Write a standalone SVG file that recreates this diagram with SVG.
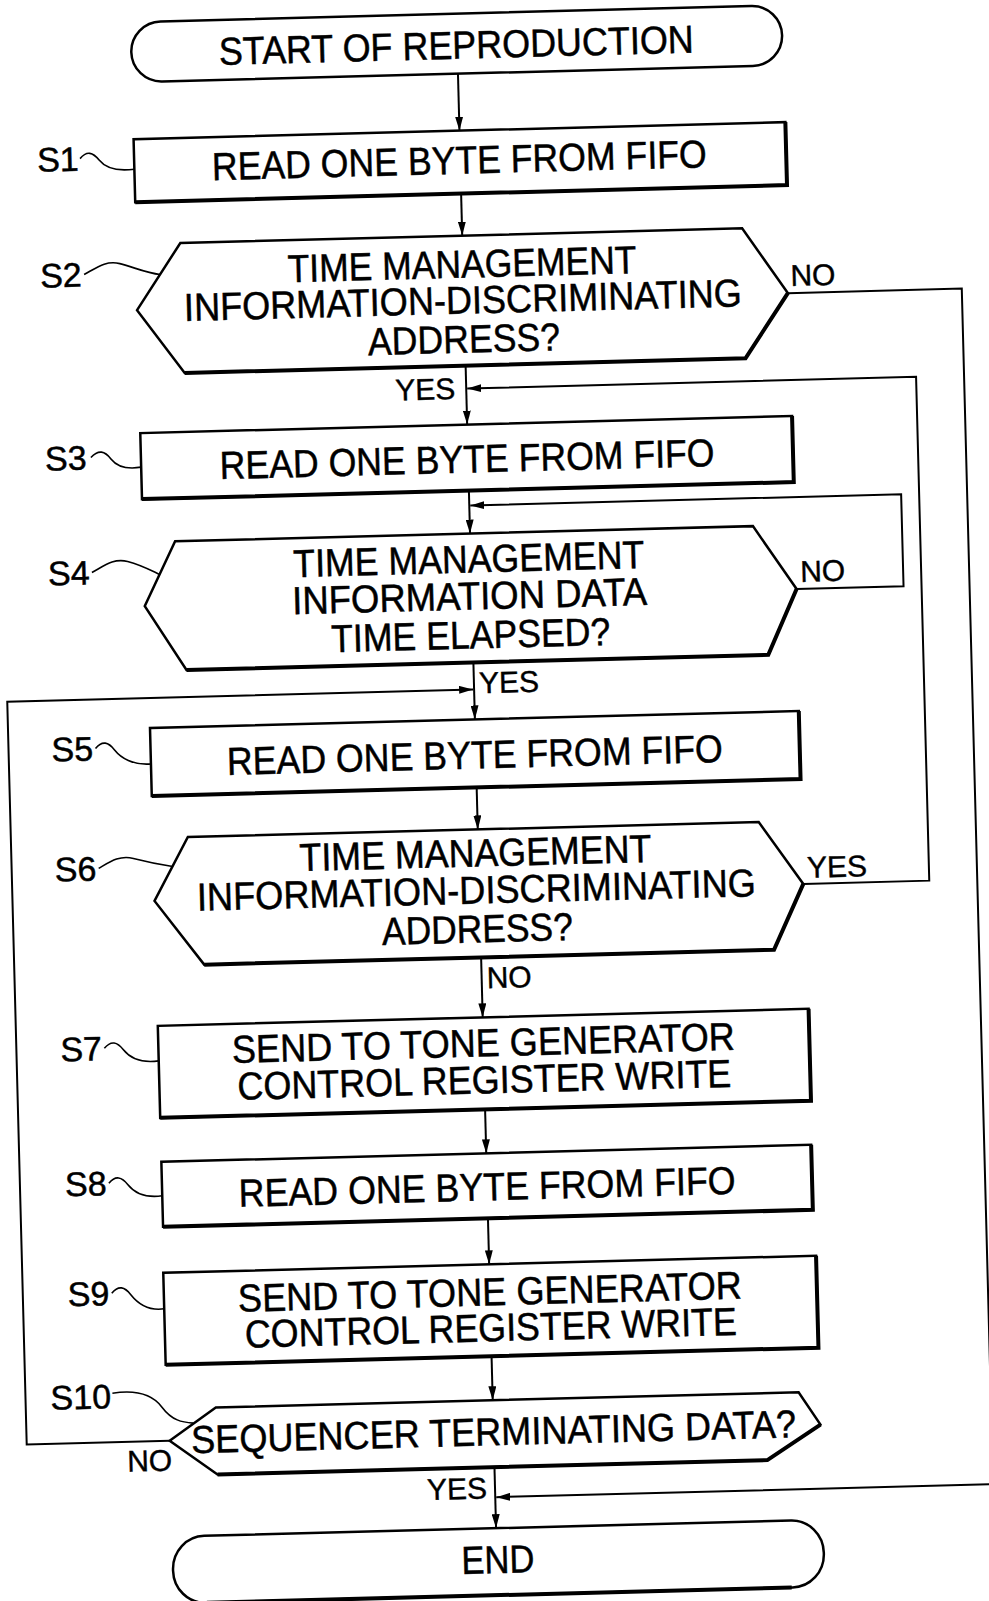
<svg xmlns="http://www.w3.org/2000/svg" width="989" height="1601" viewBox="0 0 989 1601">
<style>
.node{fill:#fff;stroke:#000;stroke-width:2.5;stroke-linejoin:miter}
.sh{fill:none;stroke:#000;stroke-width:4}
.t{font-family:"Liberation Sans",Arial,Helvetica,sans-serif;font-size:39px;text-anchor:middle;fill:#000;stroke:#000;stroke-width:0.5}
.lbl{font-family:"Liberation Sans",Arial,Helvetica,sans-serif;font-size:30px;fill:#000;stroke:#000;stroke-width:0.4}
.sl{font-family:"Liberation Sans",Arial,Helvetica,sans-serif;font-size:34px;fill:#000;stroke:#000;stroke-width:0.5}
.conn{fill:none;stroke:#000;stroke-width:2}
.sq{fill:none;stroke:#000;stroke-width:1.6}
</style>
<defs>
<marker id="arr" viewBox="0 0 14 8" refX="14" refY="4" markerWidth="14" markerHeight="8" markerUnits="userSpaceOnUse" orient="auto">
<path d="M0,0 L14,4 L0,8 z" fill="#000"/>
</marker>
</defs>
<rect x="0" y="0" width="989" height="1601" fill="#fff"/>
<g transform="rotate(-1.5 494 800)">
<g id="connectors">
<path class="conn" marker-end="url(#arr)" d="M477 73 V130"/>
<path class="conn" marker-end="url(#arr)" d="M477 193 V235"/>
<path class="conn" marker-end="url(#arr)" d="M477 365 V424"/>
<path class="conn" marker-end="url(#arr)" d="M477 490 V533"/>
<path class="conn" marker-end="url(#arr)" d="M477 662 V719"/>
<path class="conn" marker-end="url(#arr)" d="M477 787 V829"/>
<path class="conn" marker-end="url(#arr)" d="M477 957 V1017"/>
<path class="conn" marker-end="url(#arr)" d="M477 1109 V1153"/>
<path class="conn" marker-end="url(#arr)" d="M477 1218 V1264"/>
<path class="conn" marker-end="url(#arr)" d="M477 1356 V1400"/>
<path class="conn" marker-end="url(#arr)" d="M477 1467 V1528"/>
<path class="conn" marker-end="url(#arr)" d="M801 301 H975 V1497 H478"/>
<path class="conn" marker-end="url(#arr)" d="M802 597 H909 V505 H478"/>
<path class="conn" marker-end="url(#arr)" d="M801 892 H927 V388 H478"/>
<path class="conn" marker-end="url(#arr)" d="M153 1432 H10 V689 H476"/>
<text class="lbl" x="804" y="294">NO</text>
<text class="lbl" x="406" y="398">YES</text>
<text class="lbl" x="806" y="590">NO</text>
<text class="lbl" x="482" y="693">YES</text>
<text class="lbl" x="805" y="886">YES</text>
<text class="lbl" x="482" y="988">NO</text>
<text class="lbl" x="110" y="1462">NO</text>
<text class="lbl" x="409" y="1498">YES</text>
</g>
<g id="start">
<rect class="node" x="151" y="13" width="651" height="60" rx="30" ry="30"/>
<text class="t" x="476" y="58" textLength="475" lengthAdjust="spacingAndGlyphs">START OF REPRODUCTION</text>
</g>
<g id="s1">
<rect class="node" x="151" y="130" width="652" height="63"/>
<path class="sh" d="M803 130 V193 H151"/>
<text class="t" x="476" y="173" textLength="495" lengthAdjust="spacingAndGlyphs">READ ONE BYTE FROM FIFO</text>
<text class="sl" x="54" y="160">S1</text>
<path class="sq" d="M97 148 C104 140 110 142 116 150 S132 162 151 160"/>
</g>
<g id="s2">
<polygon class="node" points="150,301 195,235 757,235 801,301 757,365 196,365"/>
<path class="sh" d="M801 301 L757 365 L196 365"/>
<text class="t" x="476" y="277" textLength="349" lengthAdjust="spacingAndGlyphs">TIME MANAGEMENT</text>
<text class="t" x="476" y="313" textLength="558" lengthAdjust="spacingAndGlyphs">INFORMATION-DISCRIMINATING</text>
<text class="t" x="476" y="352" textLength="192" lengthAdjust="spacingAndGlyphs">ADDRESS?</text>
<text class="sl" x="54" y="276">S2</text>
<path class="sq" d="M98 264 C110 258 120 250 134 254 S160 264 174 266"/>
</g>
<g id="s3">
<rect class="node" x="150" y="424" width="652" height="66"/>
<path class="sh" d="M802 424 V490 H150"/>
<text class="t" x="476" y="472" textLength="495" lengthAdjust="spacingAndGlyphs">READ ONE BYTE FROM FIFO</text>
<text class="sl" x="54" y="459">S3</text>
<path class="sq" d="M100 447 C108 439 114 441 120 449 S136 460 150 458"/>
</g>
<g id="s4">
<polygon class="node" points="150,597 182,533 760,533 802,597 772,662 190,662"/>
<path class="sh" d="M802 597 L772 662 L190 662"/>
<text class="t" x="475" y="572" textLength="351" lengthAdjust="spacingAndGlyphs">TIME MANAGEMENT</text>
<text class="t" x="475" y="609" textLength="355" lengthAdjust="spacingAndGlyphs">INFORMATION DATA</text>
<text class="t" x="475" y="648" textLength="279" lengthAdjust="spacingAndGlyphs">TIME ELAPSED?</text>
<text class="sl" x="54" y="574">S4</text>
<path class="sq" d="M98 562 C110 556 120 548 134 552 S158 562 166 566"/>
</g>
<g id="s5">
<rect class="node" x="152" y="719" width="649" height="68"/>
<path class="sh" d="M801 719 V787 H152"/>
<text class="t" x="476" y="768" textLength="496" lengthAdjust="spacingAndGlyphs">READ ONE BYTE FROM FIFO</text>
<text class="sl" x="53" y="750">S5</text>
<path class="sq" d="M97 738 C104 730 110 732 116 740 S134 756 152 755"/>
</g>
<g id="s6">
<polygon class="node" points="152,892 187,829 758,829 801,892 770,957 200,957"/>
<path class="sh" d="M801 892 L770 957 L200 957"/>
<text class="t" x="474" y="866" textLength="352" lengthAdjust="spacingAndGlyphs">TIME MANAGEMENT</text>
<text class="t" x="474" y="903" textLength="559" lengthAdjust="spacingAndGlyphs">INFORMATION-DISCRIMINATING</text>
<text class="t" x="474" y="942" textLength="191" lengthAdjust="spacingAndGlyphs">ADDRESS?</text>
<text class="sl" x="53" y="870">S6</text>
<path class="sq" d="M97 858 C108 852 118 845 132 849 S160 856 171 858"/>
</g>
<g id="s7">
<rect class="node" x="152" y="1017" width="651" height="92"/>
<path class="sh" d="M803 1017 V1109 H152"/>
<text class="t" x="477" y="1056" textLength="503" lengthAdjust="spacingAndGlyphs">SEND TO TONE GENERATOR</text>
<text class="t" x="477" y="1093" textLength="494" lengthAdjust="spacingAndGlyphs">CONTROL REGISTER WRITE</text>
<text class="sl" x="54" y="1050">S7</text>
<path class="sq" d="M98 1038 C105 1030 111 1032 117 1040 S134 1054 152 1052"/>
</g>
<g id="s8">
<rect class="node" x="152" y="1153" width="650" height="65"/>
<path class="sh" d="M802 1153 V1218 H152"/>
<text class="t" x="477" y="1200" textLength="497" lengthAdjust="spacingAndGlyphs">READ ONE BYTE FROM FIFO</text>
<text class="sl" x="55" y="1185">S8</text>
<path class="sq" d="M99 1173 C106 1165 112 1167 118 1175 S134 1189 152 1187"/>
</g>
<g id="s9">
<rect class="node" x="151" y="1264" width="653" height="92"/>
<path class="sh" d="M804 1264 V1356 H151"/>
<text class="t" x="477" y="1305" textLength="504" lengthAdjust="spacingAndGlyphs">SEND TO TONE GENERATOR</text>
<text class="t" x="477" y="1341" textLength="492" lengthAdjust="spacingAndGlyphs">CONTROL REGISTER WRITE</text>
<text class="sl" x="55" y="1295">S9</text>
<path class="sq" d="M99 1283 C106 1275 112 1277 118 1285 S134 1302 151 1300"/>
</g>
<g id="s10">
<polygon class="node" points="153,1432 200,1400 783,1400 804,1433 750,1467 200,1467"/>
<path class="sh" d="M804 1433 L750 1467 L200 1467"/>
<text class="t" x="477" y="1445" textLength="605" lengthAdjust="spacingAndGlyphs">SEQUENCER TERMINATING DATA?</text>
<text class="sl" x="35" y="1398">S10</text>
<path class="sq" d="M97 1383 C120 1380 136 1384 146 1398 S166 1414 177 1415"/>
</g>
<g id="end">
<rect class="node" x="153" y="1528" width="651" height="67" rx="32" ry="33"/>
<path class="sh" d="M771 1595 H186"/>
<text class="t" x="478" y="1573" textLength="73" lengthAdjust="spacingAndGlyphs">END</text>
</g>
</g>
</svg>
